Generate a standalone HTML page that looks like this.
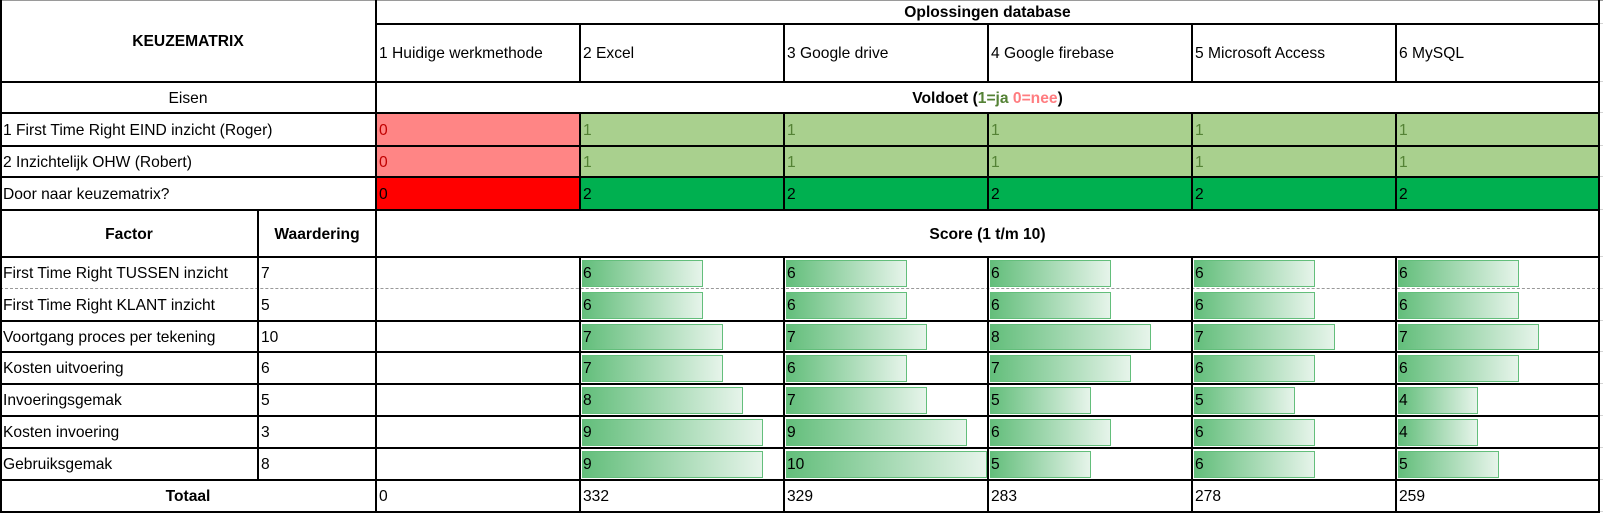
<!DOCTYPE html>
<html><head><meta charset="utf-8">
<style>
html,body{margin:0;padding:0;background:#fff;}
#sheet{position:relative;width:1603px;height:514px;overflow:hidden;font-family:"Liberation Sans",sans-serif;font-size:15.6px;color:#000;}
.c{position:absolute;display:flex;align-items:center;box-sizing:border-box;padding:2px 3px 0 3px;white-space:nowrap;}
.ctr{justify-content:center;}
.b{font-weight:bold;}
.hl{position:absolute;height:2px;background:#000;}
.vl{position:absolute;width:2px;background:#000;}
.bar{position:absolute;box-sizing:border-box;border:1px solid #63be7b;background:linear-gradient(to right,#63be7b,#e6f4ea);}
</style></head>
<body>
<div id="sheet">
  <div class="c ctr b" style="left:0;top:0;width:376px;height:82px">KEUZEMATRIX</div>
  <div class="c ctr b" style="left:376px;top:0;width:1223px;height:24px">Oplossingen database</div>
  <div class="c ctr" style="left:0;top:82px;width:376px;height:31px">Eisen</div>
  <div class="c ctr b" style="left:376px;top:82px;width:1223px;height:31px">Voldoet (<span style="color:#548235">1=ja</span>&nbsp;<span style="color:#ff7c80">0=nee</span>)</div>
  <div class="c" style="left:0;top:113px;width:376px;height:33px">1 First Time Right EIND inzicht (Roger)</div>
  <div class="c" style="left:0;top:146px;width:376px;height:31px">2 Inzichtelijk OHW (Robert)</div>
  <div class="c" style="left:0;top:177px;width:376px;height:33px">Door naar keuzematrix?</div>
  <div class="c ctr b" style="left:0;top:210px;width:258px;height:47px">Factor</div>
  <div class="c ctr b" style="left:258px;top:210px;width:118px;height:47px">Waardering</div>
  <div class="c ctr b" style="left:376px;top:210px;width:1223px;height:47px">Score (1 t/m 10)</div>
  <div class="c ctr b" style="left:0;top:480px;width:376px;height:32px">Totaal</div>
  <div id="dyn"></div>
  <div id="lines"></div>
</div>
<script>
const options = ["1 Huidige werkmethode","2 Excel","3 Google drive","4 Google firebase","5 Microsoft Access","6 MySQL"];
const eis1 = [0,1,1,1,1,1];
const eis2 = [0,1,1,1,1,1];
const factors = ["First Time Right TUSSEN inzicht","First Time Right KLANT inzicht","Voortgang proces per tekening","Kosten uitvoering","Invoeringsgemak","Kosten invoering","Gebruiksgemak"];
const weights = [7,5,10,6,5,3,8];
const scoresExcel = [6,6,7,7,8,9,9];
const scoresDrive = [6,6,7,6,7,9,10];
const scoresFirebase = [6,6,8,7,5,6,5];
const scoresAccess = [6,6,7,6,5,6,6];
const scoresMySQL = [6,6,7,6,4,4,5];
const totals = [0,332,329,283,278,259];

const sheet = document.getElementById('dyn');
const colX = [376,580,784,988,1192,1396,1599];
const rowY = [257,289,321,352,384,416,448,480];
const unitW = 20.1;
function cell(x,y,w,h,txt,name,style){
  const d=document.createElement('div');
  d.className='c';
  d.style.cssText=`left:${x}px;top:${y}px;width:${w}px;height:${h}px;`+(style||'');
  d.textContent=txt;
  
  
  sheet.appendChild(d);
  return d;
}
options.forEach((o,i)=>{
  const x=colX[i], w=colX[i+1]-colX[i];
  cell(x,24,w,58,o,'option-header-'+(i+1));
  const ok1=eis1[i]===1, ok2=eis2[i]===1;
  cell(x,113,w,33,String(eis1[i]),'eis-1-value-'+(i+1),ok1?'background:#a9d08e;color:#548235;':'background:#ff8585;color:#c00000;');
  cell(x,146,w,31,String(eis2[i]),'eis-2-value-'+(i+1),ok2?'background:#a9d08e;color:#548235;':'background:#ff8585;color:#c00000;');
  const s=eis1[i]+eis2[i];
  cell(x,177,w,33,String(s),'door-value-'+(i+1),s===2?'background:#00b050;':'background:#ff0000;');
  cell(x,480,w,32,String(totals[i]),'total-'+(i+1));
});
const series=[scoresExcel,scoresDrive,scoresFirebase,scoresAccess,scoresMySQL];
factors.forEach((f,r)=>{
  const y=rowY[r], h=rowY[r+1]-rowY[r];
  cell(0,y,258,h,f,'factor-label-'+(r+1));
  cell(258,y,118,h,String(weights[r]),'weight-'+(r+1));
  series.forEach((arr,si)=>{
    const x=colX[si+1]+2;
    const b=document.createElement('div');
    b.className='bar';
    b.style.cssText=`left:${x}px;top:${y+3}px;width:${Math.round(arr[r]*unitW)}px;height:${h-5}px;`;
    
    
    sheet.appendChild(b);
    cell(colX[si+1],y,colX[si+2]-colX[si+1],h,String(arr[r]),'score-value');
  });
});
const L=document.getElementById('lines');
function hl(x1,x2,y,style){
  const d=document.createElement('div');d.className='hl';
  d.style.cssText=`left:${x1}px;top:${y-1}px;width:${x2-x1}px;`+(style||'');
  L.appendChild(d);
}
function vl(x,y1,y2){
  const d=document.createElement('div');d.className='vl';
  d.style.cssText=`left:${x-1}px;top:${y1-1}px;height:${y2-y1+2}px;`;
  L.appendChild(d);
}
[0,24,82,113,146,177,210,257,289,321,352,384,416,448,480,512].forEach(y=>hl(1600,1603,y,'height:1px;background:#d4d4d4;'));
hl(0,1603,1,'height:1px;background:#9a9a9a;');
hl(376,1600,24);
[82,113,146,177,210,257,321,352,384,416,448,480,512].forEach(y=>hl(0,1600,y));
hl(0,1600,289,'height:0;background:none;border-top:1px dashed #999;');
vl(1,0,512);vl(376,0,512);vl(1599,0,512);
vl(258,210,480);
[580,784,988,1192,1396].forEach(x=>{vl(x,24,82);vl(x,113,210);vl(x,257,512);});
</script>
</body></html>
